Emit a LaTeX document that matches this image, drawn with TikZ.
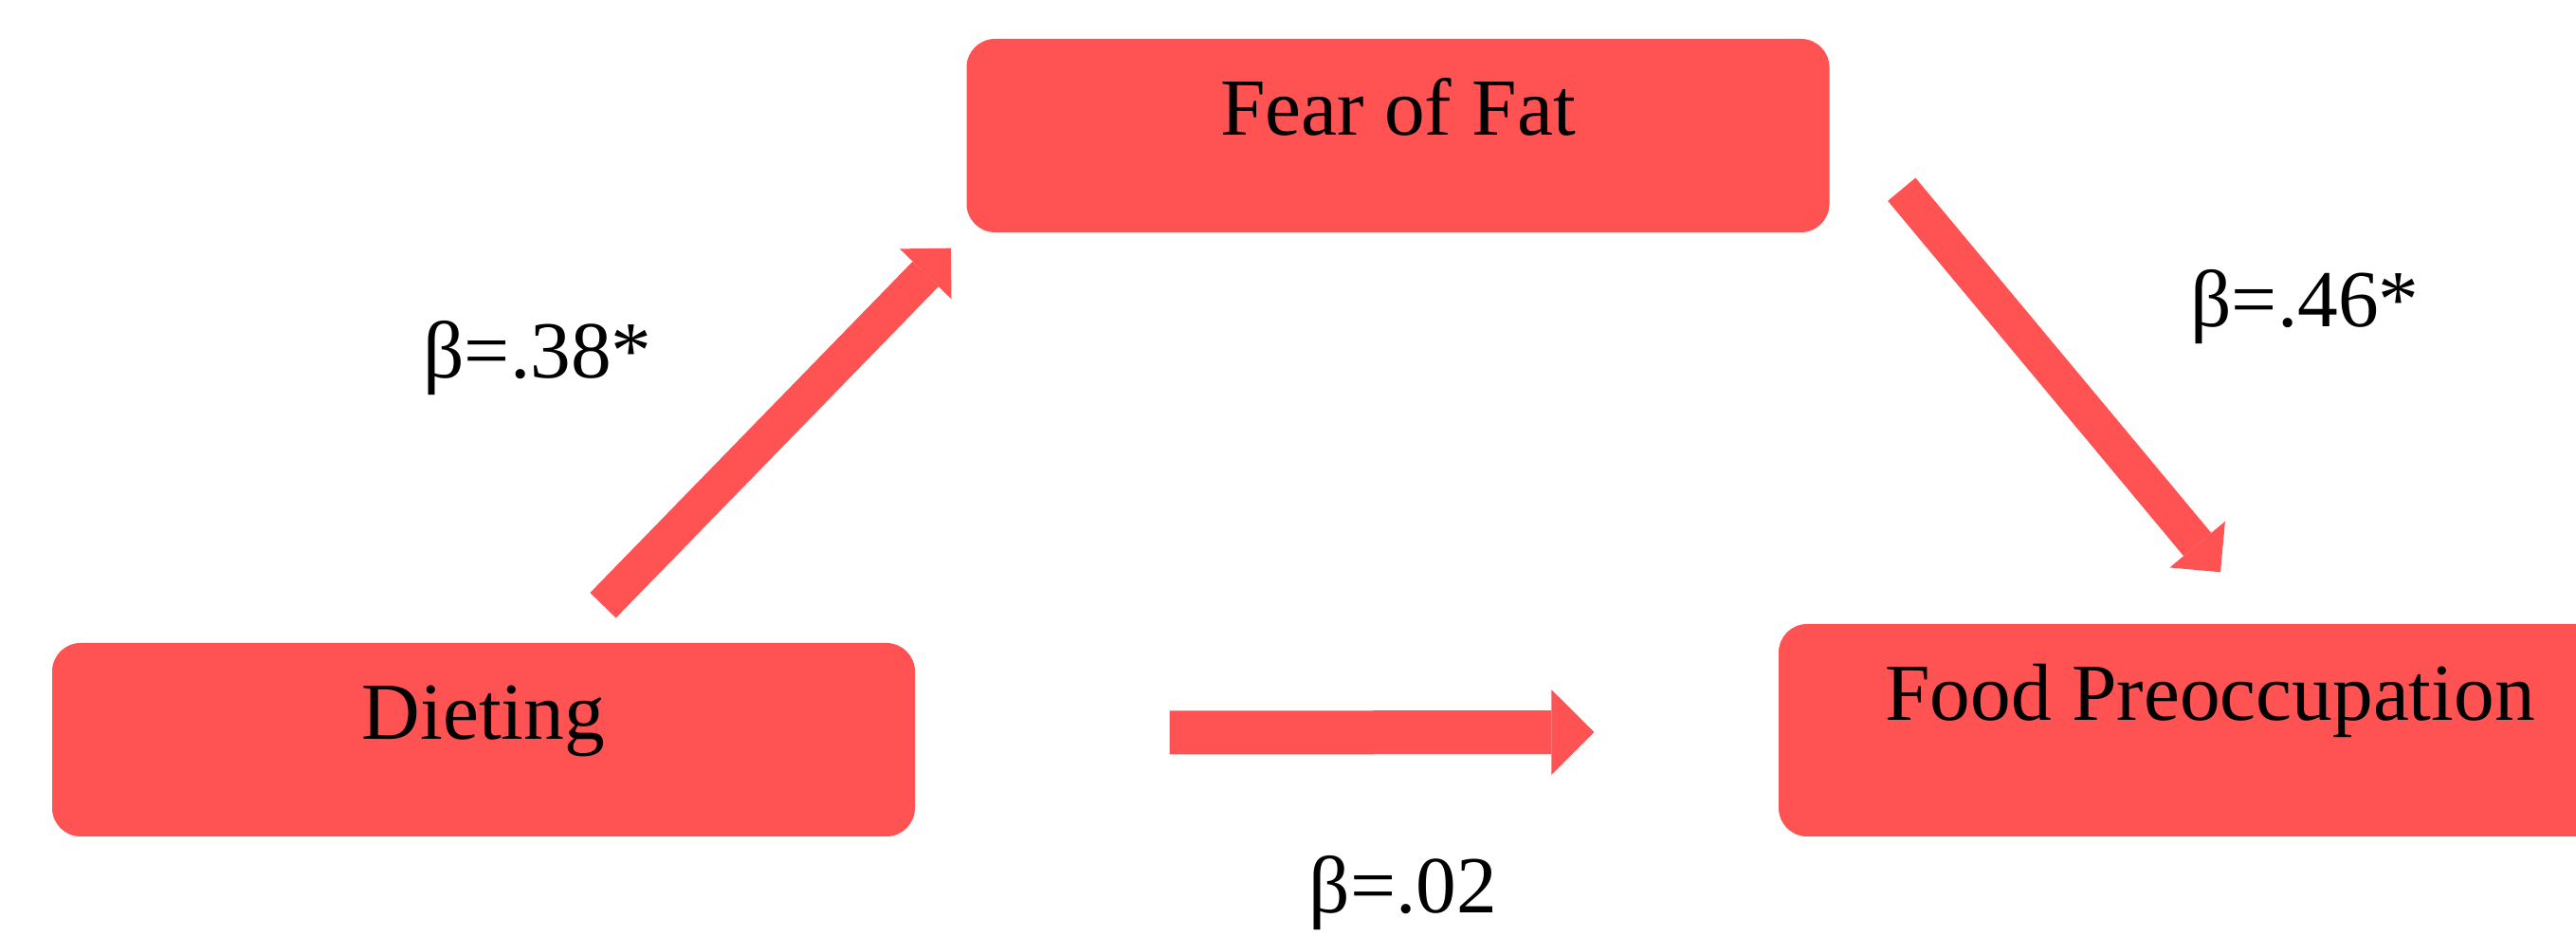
\documentclass[tikz,border=0pt]{standalone}
\usepackage{fontspec}
\setmainfont{Liberation Serif}
\usetikzlibrary{positioning,arrows.meta,calc}
\definecolor{boxred}{HTML}{FF5252}

\begin{document}
\begin{tikzpicture}[>=Latex,
  box/.style={fill=boxred,rounded corners=0.3cm,minimum width=9.1cm,minimum height=2.04cm,
    font=\fontsize{24.3}{29}\selectfont,text height=0.6cm,text depth=0.6cm},
  flow/.style={draw=boxred,line width=3.8mm,-{Triangle[width=7.6mm,length=3.8mm,line width=0pt]}},
  coef/.style={anchor=base,font=\fontsize{24.3}{29}\selectfont}]
  \useasboundingbox (0,0) rectangle (27.17,9.88);
  \clip (0,0) rectangle (27.17,9.88);
  % variables
  \node[box] (fear) at (14.745,8.45) {Fear of Fat};
  \node[box] (diet) at (5.10,2.08) {Dieting};
  \node[box,minimum height=2.24cm,text height=0.5cm,text depth=0.7cm] (food) at (23.31,2.18) {Food Preoccupation};
  % paths
  \draw[flow] ($(diet.north)+(1.26,0.39)$) -- ($(fear.south west)+(-0.16,-0.16)$);
  \draw[flow] ($(fear.south east)+(0.755,0.46)$) -- ($(food.north)+(0.11,0.54)$);
  \draw[flow,line width=4.6mm,-{Triangle[width=9mm,length=4.5mm,line width=0pt]}]
    ($(diet.east)+(2.68,0.075)$) -- ($(food.west)+(-1.94,-0.02)$);
  % coefficients
  \node[coef] (b1) at (5.67,5.89) {β=.38*};
  \node[coef] (b2) at (24.31,6.43) {β=.46*};
  \node[coef] (b3) at (14.80,0.25) {β=.02};
\end{tikzpicture}
\end{document}
